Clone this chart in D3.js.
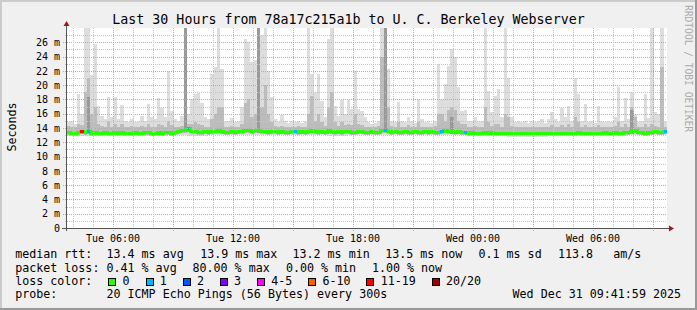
<!DOCTYPE html>
<html>
<head>
<meta charset="utf-8">
<script src="https://cdn.jsdelivr.net/npm/d3@7"></script>
<style>
body { margin: 0; background: #f0f0f0; }
svg { display: block; }
text { font-family: "DejaVu Sans Mono", monospace; fill: #000; }
</style>
</head>
<body>
<div id="chart"></div>
<script>
// rrd window: 30 hours ending at the probe time, one column every 10 minutes
var endTime = new Date(2025, 11, 31, 9, 41, 59);
var spanHours = 30;
var stepSec = 600;

// median rtt per column (ms)
var median = [
  13.4,13.3,13.3,13.4,13.5,13.4,13.5,13.3,13.4,13.3,13.3,13.4,13.3,13.3,13.4,13.3,13.4,13.3,
  13.3,13.3,13.4,13.3,13.3,13.4,13.4,13.3,13.3,13.4,13.3,13.4,13.4,13.3,13.4,13.5,13.6,13.7,
  13.9,13.5,13.5,13.4,13.4,13.5,13.4,13.5,13.5,13.6,13.5,13.4,13.4,13.5,13.4,13.5,13.5,13.6,
  13.6,13.5,13.7,13.6,13.5,13.5,13.4,13.5,13.5,13.4,13.5,13.4,13.4,13.5,13.5,13.4,13.5,13.4,
  13.5,13.6,13.5,13.4,13.5,13.4,13.6,13.5,13.4,13.5,13.4,13.5,13.5,13.4,13.4,13.5,13.5,13.4,
  13.4,13.5,13.4,13.4,13.6,13.7,13.5,13.4,13.5,13.4,13.4,13.5,13.4,13.4,13.5,13.4,13.4,13.5,
  13.4,13.5,13.4,13.4,13.5,13.6,13.5,13.5,13.4,13.5,13.4,13.4,13.3,13.4,13.3,13.3,13.3,13.4,
  13.3,13.4,13.3,13.3,13.2,13.3,13.3,13.2,13.3,13.2,13.2,13.3,13.3,13.2,13.3,13.3,13.2,13.3,
  13.3,13.3,13.2,13.3,13.3,13.3,13.2,13.3,13.3,13.4,13.3,13.3,13.3,13.2,13.3,13.3,13.3,13.4,
  13.3,13.3,13.4,13.3,13.3,13.4,13.4,13.5,13.6,13.4,13.4,13.3,13.4,13.4,13.5,13.4,13.4,13.5
];

// slowest ping per column (top of the light smoke), ms
var smokeMax = [
  14.8,15.0,14.5,18.8,16.0,30,30,21.4,25.7,17.1,15.7,15.2,18.4,15.5,18.4,15.3,17.2,15.0,
  14.8,15.2,14.8,15.0,15.7,15.0,17.3,15.5,15.2,18.2,16.8,15.5,22.0,16.4,15.2,15.0,15.7,30,
  16.0,18.0,18.8,18.9,17.5,15.5,15.3,21.6,22.5,30,22.2,15.0,15.0,15.4,14.8,15.0,16.9,26.5,
  26.0,23.2,23.5,30,27.0,30,22.0,18.3,15.2,14.8,15.8,15.0,14.7,15.0,14.8,15.0,14.7,15.0,
  30,21.5,19.1,21.6,17.8,15.5,26.5,30,17.1,15.7,17.9,16.0,17.9,16.7,22.0,16.7,16.4,15.5,
  14.8,14.5,14.7,15.0,30,30,22.3,15.0,14.8,17.7,15.0,14.8,15.5,15.0,14.7,18.0,15.2,14.8,
  15.0,14.7,15.0,23.0,18.0,20.2,22.7,25.0,24.0,19.7,16.4,16.5,15.0,15.0,15.5,14.8,15.0,30,
  19.2,16.3,18.5,19.5,15.5,30,21.0,15.5,14.8,15.0,14.8,15.0,14.7,15.0,14.8,15.0,15.2,14.7,
  15.2,16.3,15.3,14.8,16.8,15.5,17.1,15.0,21.0,18.7,15.0,17.3,14.8,15.0,14.7,17.1,15.0,14.8,
  15.0,14.8,15.5,19.7,15.0,18.2,15.2,19.0,16.0,14.8,15.0,18.8,15.4,30,16.3,16.0,30,15.0
];

// upper edge of the denser smoke per column, ms
var smokeMid = [
  14.3,14.2,14.2,14.6,14.4,19.0,21.0,16.0,17.0,14.5,14.3,14.2,15.0,14.2,14.6,14.2,14.5,14.2,
  14.2,14.3,14.2,14.2,14.3,14.2,14.6,14.2,14.2,14.6,14.4,14.2,15.0,14.4,14.2,14.2,14.3,30,
  14.6,14.5,14.8,14.6,14.4,14.2,14.2,15.2,16.0,17.0,16.9,14.2,14.2,14.3,14.2,14.2,14.5,17.5,
  18.0,15.5,16.0,30,17.0,20.0,16.0,14.8,14.3,14.2,14.3,14.2,14.2,14.2,14.2,14.3,14.2,14.2,
  16.0,18.5,15.0,16.0,14.8,14.3,17.0,19.0,14.8,14.3,14.8,14.4,14.6,14.4,16.0,14.5,14.4,14.2,
  14.2,14.2,14.2,14.3,24.0,30,17.0,14.3,14.2,14.8,14.2,14.2,14.4,14.2,14.2,14.8,14.2,14.2,
  14.2,14.2,14.3,16.0,16.0,15.0,16.5,17.0,16.5,15.0,14.5,14.5,14.2,14.2,14.3,14.2,14.2,17.0,
  14.8,14.3,14.6,14.6,14.2,16.0,15.5,14.3,14.1,14.2,14.1,14.2,14.1,14.2,14.1,14.2,14.2,14.1,
  14.2,14.4,14.2,14.1,14.4,14.2,14.5,14.2,15.5,14.8,14.2,14.4,14.1,14.2,14.1,14.4,14.2,14.1,
  14.2,14.1,14.3,14.8,14.2,14.6,14.2,17.0,15.5,14.2,14.2,14.6,14.2,14.5,14.3,14.2,22.5,14.2
];

// fastest ping, one value per hour (ms)
var smokeMinHourly = [12.9,12.9,12.9,12.9,12.9,13.0,12.9,13.0,13.0,13.0,13.0,13.0,13.0,12.9,13.0,
                      13.0,13.0,13.0,13.0,13.0,12.9,12.9,12.8,12.8,12.9,12.9,12.9,12.9,13.0,13.0];

// columns where most pings were slow (dark smoke)
var darkCols = [6, 35, 57, 95, 115, 169];
var darkTop  = [18.4, 30, 30, 30, 15.5, 16.5];

// columns with packet loss and how many of 20 pings were lost
var lossCols  = [4, 6, 36, 68, 95, 112, 119, 179];
var lossCount = [16, 1, 1, 1, 1, 1, 1, 1];

// loss colour key
var lossLabels = ["0", "1", "2", "3", "4-5", "6-10", "11-19", "20/20"];
var lossLimits = [0, 1, 2, 3, 5, 10, 19, 20];
var lossColors = ["#26ff00", "#00b8ff", "#0059ff", "#7e00ff", "#ff00ff", "#ff5e00", "#ff0000", "#a10000"];

(function() {
var W = 697, H = 310;
var pLeft = 67, pRight = 667, pTop = 28, pBottom = 228;

var startTime = new Date(+endTime - spanHours * 3600e3);
var x = d3.scaleTime().domain([startTime, endTime]).range([pLeft, pRight]);
var y = d3.scaleLinear().domain([0, 28]).range([pBottom, pTop]);
function colT(i) { return new Date(+startTime + i * stepSec * 1000); }
function lossColor(n) {
  for (var k = 0; k < lossLimits.length; k++) if (n <= lossLimits[k]) return lossColors[k];
  return lossColors[lossColors.length - 1];
}

var svg = d3.select("#chart").append("svg").attr("width", W).attr("height", H);

// background + 3d border
svg.append("rect").attr("width", W).attr("height", H).attr("fill", "#f0f0f0");
svg.append("path").attr("d", "M0,0H697V2H2V310H0Z").attr("fill", "#cbcbcb");
svg.append("path").attr("d", "M697,0V310H0V308H695V0Z").attr("fill", "#999");

svg.append("rect").attr("x", pLeft).attr("y", pTop).attr("width", pRight - pLeft).attr("height", pBottom - pTop).attr("fill", "#fff");

svg.append("clipPath").attr("id", "plotclip")
  .append("rect").attr("x", pLeft).attr("y", pTop).attr("width", pRight - pLeft).attr("height", pBottom - pTop);

var plot = svg.append("g").attr("clip-path", "url(#plotclip)").attr("shape-rendering", "crispEdges");

// light smoke: fastest to slowest ping
plot.selectAll("rect.light").data(smokeMax).enter().append("rect")
  .attr("x", function(d, i) { return x(colT(i)); })
  .attr("width", function(d, i) { return x(colT(i + 1)) - x(colT(i)); })
  .attr("y", function(d) { return y(d); })
  .attr("height", function(d, i) { return y(smokeMinHourly[Math.floor(i / 6)]) - y(d); })
  .attr("fill", "#dddddd");

// denser smoke around the median
plot.selectAll("rect.mid").data(smokeMid).enter().append("rect")
  .attr("x", function(d, i) { return x(colT(i)); })
  .attr("width", function(d, i) { return x(colT(i + 1)) - x(colT(i)); })
  .attr("y", function(d) { return y(d); })
  .attr("height", function(d, i) { return y(median[i] - 0.35) - y(d); })
  .attr("fill", "#bcbcbc");

plot.selectAll("rect.dark").data(darkCols).enter().append("rect")
  .attr("x", function(c) { return x(colT(c)); })
  .attr("width", function(c) { return x(colT(c + 1)) - x(colT(c)); })
  .attr("y", function(c, k) { return y(darkTop[k]); })
  .attr("height", function(c, k) { return y(median[c] - 0.3) - y(darkTop[k]); })
  .attr("fill", "#999999");

// grid
var grid = svg.append("g").attr("shape-rendering", "crispEdges");
var yTicks = y.ticks(28).filter(function(v) { return v > 0 && v < 28; });
grid.selectAll("line.hy").data(yTicks).enter().append("line")
  .attr("x1", function(v) { return v % 2 ? pLeft - 2 : pLeft - 4; })
  .attr("x2", pRight)
  .attr("y1", function(v) { return Math.round(y(v)) + 0.5; })
  .attr("y2", function(v) { return Math.round(y(v)) + 0.5; })
  .attr("stroke", function(v) { return v % 2 ? "#c4c4c4" : "#f39393"; })
  .attr("stroke-dasharray", "1,1");

var hours = x.ticks(d3.timeHour.every(1));
grid.selectAll("line.vx").data(hours).enter().append("line")
  .attr("x1", function(t) { return Math.round(x(t)) + 0.5; })
  .attr("x2", function(t) { return Math.round(x(t)) + 0.5; })
  .attr("y1", pTop)
  .attr("y2", function(t) { return t.getHours() % 3 ? pBottom + 2 : pBottom + 3; })
  .attr("stroke", function(t) { return t.getHours() % 3 ? "#c4c4c4" : "#f39393"; })
  .attr("stroke-dasharray", "1,1");

// median line coloured by loss
var medianPts = median.map(function(v, i) { return [colT(i), v]; });
medianPts.push([colT(median.length), median[median.length - 1]]);
var line = d3.line().x(function(d) { return x(d[0]); }).y(function(d) { return y(d[1]); }).curve(d3.curveStepAfter);
plot.append("path").attr("d", line(medianPts)).attr("fill", "none")
  .attr("stroke", lossColors[0]).attr("stroke-width", 3);
plot.selectAll("line.loss").data(lossCols).enter().append("line")
  .attr("x1", function(c) { return x(colT(c)); })
  .attr("x2", function(c) { return x(colT(c + 1)); })
  .attr("y1", function(c) { return y(median[c]); })
  .attr("y2", function(c) { return y(median[c]); })
  .attr("stroke", function(c, k) { return lossColor(lossCount[k]); })
  .attr("stroke-width", 3);

// axes
var axisCol = "#555";
svg.append("line").attr("x1", pLeft - 0.5).attr("x2", pLeft - 0.5).attr("y1", pBottom + 3).attr("y2", pTop - 3)
  .attr("stroke", axisCol);
svg.append("line").attr("x1", pLeft - 5).attr("x2", pRight + 3).attr("y1", pBottom + 0.5).attr("y2", pBottom + 0.5)
  .attr("stroke", axisCol);
svg.append("path").attr("d", "M" + (pLeft - 0.5) + "," + (pTop - 7) + "l3,5h-6z").attr("fill", "#9b1b1b");
svg.append("path").attr("d", "M" + (pRight + 7) + "," + (pBottom + 0.5) + "l-5,-3v6z").attr("fill", "#9b1b1b");

// y labels
svg.append("g").selectAll("text").data(y.ticks(14).filter(function(v) { return v < 28; })).enter().append("text")
  .attr("x", 60).attr("y", function(v) { return y(v) + 3.7; })
  .attr("text-anchor", "end").style("font-size", "10px")
  .text(function(v) { return v === 0 ? "0" : v + " m"; });

// x labels
var fmt = d3.timeFormat("%a %H:%M");
svg.append("g").selectAll("text").data(hours.filter(function(t) { return t.getHours() % 6 === 0; })).enter().append("text")
  .attr("x", function(t) { return x(t); }).attr("y", 241.5)
  .attr("text-anchor", "middle").style("font-size", "10px")
  .text(fmt);

// title and side texts
svg.append("text").attr("x", 348.5).attr("y", 23.5).attr("text-anchor", "middle")
  .style("font-size", "13.3px").text("Last 30 Hours from 78a17c215a1b to U. C. Berkeley Webserver");
svg.append("text").attr("transform", "translate(15.5,127) rotate(-90)").attr("text-anchor", "middle")
  .style("font-size", "11.66px").text("Seconds");
svg.append("text").attr("transform", "translate(685,5) rotate(90)")
  .style("font-size", "9.6px").style("fill", "#aaa").text("RRDTOOL / TOBI OETIKER");

// legend
var legendRows = [
  { y: 258.3, items: [[16, "median rtt:"], [107.3, "13.4 ms avg"], [201, "13.9 ms max"], [293.3, "13.2 ms min"],
                      [386, "13.5 ms now"], [479.3, "0.1 ms sd"], [558.7, "113.8"], [614, "am/s"]] },
  { y: 271.7, items: [[16, "packet loss:"], [107.3, "0.41 % avg"], [193.3, "80.00 % max"], [286.7, "0.00 % min"],
                      [372.7, "1.00 % now"]] },
  { y: 285, items: [[16, "loss color:"]] },
  { y: 298.3, items: [[16, "probe:"], [107.3, "20 ICMP Echo Pings (56 Bytes) every 300s"]] }
];
var leg = svg.append("g").style("font-size", "11.66px");
legendRows.forEach(function(r) {
  r.items.forEach(function(it) {
    leg.append("text").attr("x", it[0] - 0.8).attr("y", r.y).text(it[1]);
  });
});
leg.append("text").attr("x", 681).attr("y", 298.3).attr("text-anchor", "end").text("Wed Dec 31 09:41:59 2025");

var kx = 108.3;
lossLabels.forEach(function(lab, k) {
  leg.append("rect").attr("x", Math.round(kx) + 0.5).attr("y", 278.5).attr("width", 7).attr("height", 7)
    .attr("fill", lossColors[k]).attr("stroke", "#000").attr("shape-rendering", "crispEdges");
  leg.append("text").attr("x", kx + 15 - 0.8).attr("y", 285).text(lab);
  kx = kx + 15 + lab.length * 7 + 15.2;
});
})();
</script>
</body>
</html>
